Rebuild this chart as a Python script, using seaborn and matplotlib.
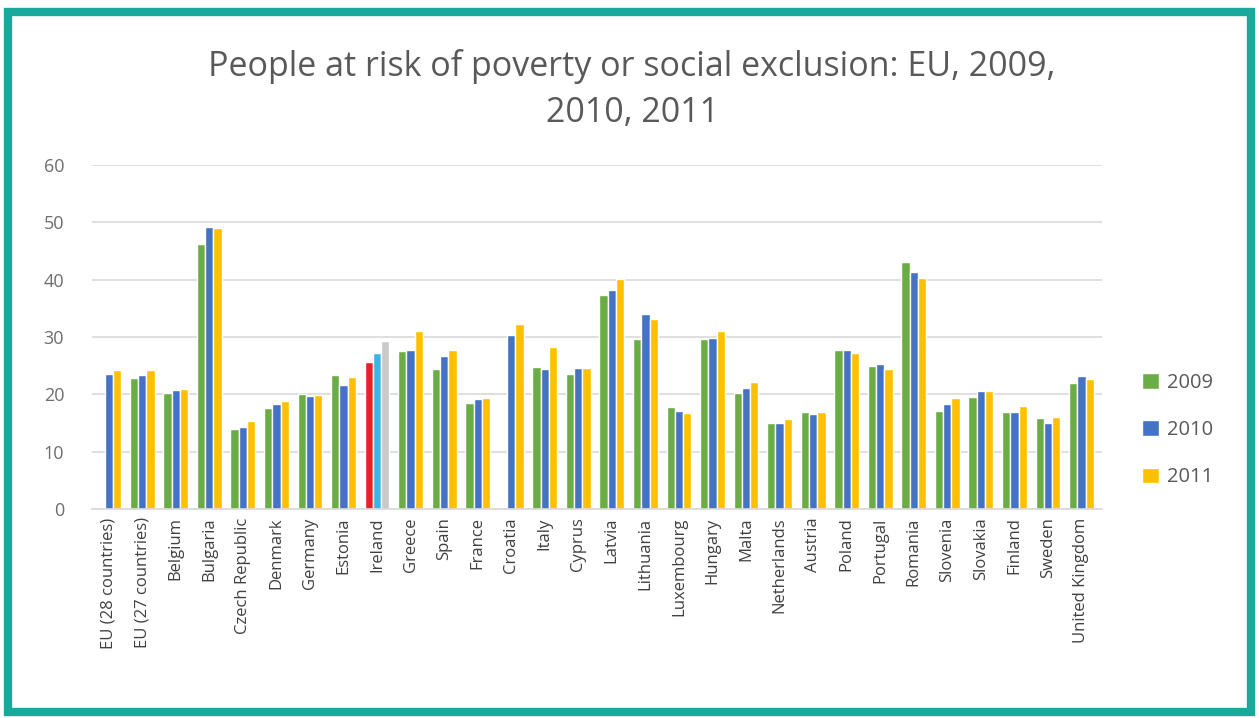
import numpy as np
import pandas as pd
import matplotlib
matplotlib.use("Agg")
import matplotlib.pyplot as plt
import matplotlib.patches as mpatches
import seaborn as sns

countries = ["EU (28 countries)", "EU (27 countries)", "Belgium", "Bulgaria", "Czech Republic",
             "Denmark", "Germany", "Estonia", "Ireland", "Greece", "Spain", "France", "Croatia",
             "Italy", "Cyprus", "Latvia", "Lithuania", "Luxembourg", "Hungary", "Malta",
             "Netherlands", "Austria", "Poland", "Portugal", "Romania", "Slovenia", "Slovakia",
             "Finland", "Sweden", "United Kingdom"]
v2009 = [np.nan, 22.9, 20.2, 46.2, 14.0, 17.6, 20.0, 23.4, 25.7, 27.6, 24.5, 18.5, np.nan,
         24.7, 23.5, 37.4, 29.6, 17.8, 29.6, 20.3, 15.1, 17.0, 27.8, 24.9, 43.1, 17.1, 19.6,
         16.9, 15.9, 22.0]
v2010 = [23.5, 23.4, 20.8, 49.2, 14.4, 18.3, 19.7, 21.7, 27.3, 27.7, 26.7, 19.2, 30.4,
         24.5, 24.6, 38.2, 34.0, 17.1, 29.9, 21.2, 15.1, 16.6, 27.8, 25.3, 41.4, 18.3, 20.6,
         16.9, 15.0, 23.2]
v2011 = [24.2, 24.2, 21.0, 49.1, 15.3, 18.9, 19.9, 23.1, 29.4, 31.0, 27.7, 19.3, 32.3,
         28.2, 24.6, 40.1, 33.1, 16.8, 31.0, 22.1, 15.7, 16.9, 27.2, 24.4, 40.3, 19.3, 20.6,
         17.9, 16.1, 22.7]
years = ["2009", "2010", "2011"]
title = "People at risk of poverty or social exclusion: EU, 2009,\n2010, 2011"
highlight = "Ireland"

df = pd.DataFrame({"country": countries * 3,
                   "year": sum([[y] * len(countries) for y in years], []),
                   "value": v2009 + v2010 + v2011})

colors = {"2009": "#6aad45", "2010": "#4472c4", "2011": "#ffc000"}
hl_colors = {"2009": "#e8212b", "2010": "#3db4e6", "2011": "#c9c9c9"}

sns.set_theme(style="white")
plt.rcParams['font.family'] = ['Open Sans', 'DejaVu Sans']

fig = plt.figure(figsize=(12.59, 7.18), dpi=100)
ax = fig.add_axes([0.073, 0.291, 0.802, 0.479])

sns.barplot(data=df, x="country", y="value", hue="year", hue_order=years,
            order=countries, palette=colors, width=0.74, ax=ax, legend=False,
            errorbar=None, saturation=1)

# highlight Ireland bars
hi = countries.index(highlight)
for yi, y in enumerate(years):
    cont = ax.containers[yi]
    for p in cont.patches:
        cx = p.get_x() + p.get_width() / 2
        if abs(cx - hi) < 0.5:
            p.set_facecolor(hl_colors[y])

ax.set_ylim(0, 60)
ax.set_xlim(-0.5, len(countries) - 0.4)
ax.set_yticks(range(0, 61, 10))
ax.grid(axis="y", color="#d9d9d9", linewidth=1.2)
ax.set_axisbelow(True)
for s in ["top", "right", "left"]:
    ax.spines[s].set_visible(False)
ax.spines["bottom"].set_color("#d9d9d9")
ax.spines["bottom"].set_linewidth(1.2)
ax.set_xlabel("")
ax.set_ylabel("")
ax.tick_params(axis="y", length=0, labelsize=13, labelcolor="#6e6e6e", pad=20)
ax.tick_params(axis="x", length=0, labelsize=12, labelcolor="#404040", pad=6)
plt.setp(ax.get_xticklabels(), rotation=90)

fig.suptitle(title, y=0.932, fontsize=24.5, color="#595959", linespacing=1.45, x=0.502)

handles = [mpatches.Patch(facecolor=colors[y], label=y) for y in years]
fig.legend(handles=handles, loc="center left", bbox_to_anchor=(0.893, 0.401),
           frameon=False, fontsize=14.5, labelspacing=1.35, handlelength=0.8,
           handleheight=0.8, handletextpad=0.4, labelcolor="#595959")

border = mpatches.Rectangle((0.006, 0.008), 0.988, 0.975, transform=fig.transFigure,
                            fill=False, edgecolor="#17a99b", linewidth=6)
fig.patches.append(border)

fig.savefig("out.png", dpi=100)
